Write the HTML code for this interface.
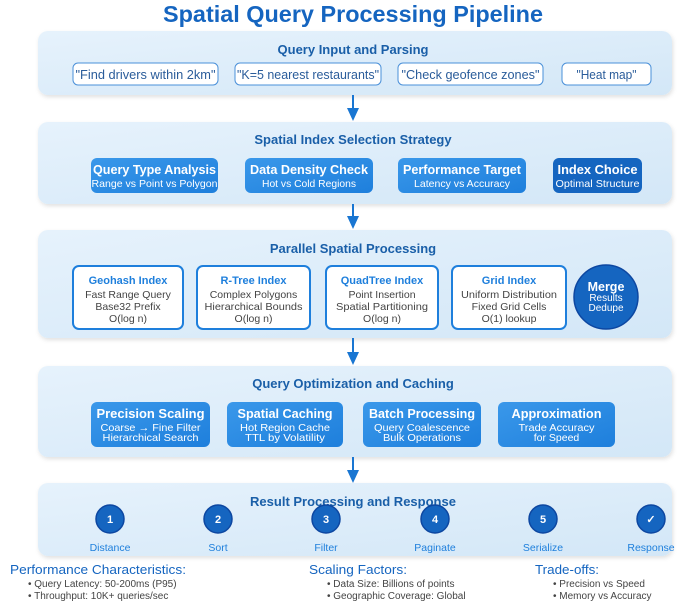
<!DOCTYPE html>
<html><head><meta charset="utf-8"><style>
html,body{margin:0;padding:0;background:#fff;}
svg{display:block;font-family:"Liberation Sans",Arial,sans-serif;}
</style></head><body>
<svg width="685" height="605" viewBox="0 0 685 605" xmlns="http://www.w3.org/2000/svg">
<defs>
<linearGradient id="pg" x1="0" y1="0" x2="1" y2="1"><stop offset="0" stop-color="#e6f2fc"/><stop offset="1" stop-color="#d3e7f7"/></linearGradient>
<linearGradient id="bb" x1="0" y1="0" x2="1" y2="1"><stop offset="0" stop-color="#3a98ea"/><stop offset="1" stop-color="#1e7fdc"/></linearGradient>
<filter id="sh" x="-5%" y="-10%" width="110%" height="130%"><feDropShadow dx="1" dy="2" stdDeviation="2" flood-color="#000" flood-opacity="0.12"/></filter>
</defs>
<text x="353" y="22" text-anchor="middle" font-size="23" font-weight="bold" fill="#1565c0" textLength="380" lengthAdjust="spacingAndGlyphs">Spatial Query Processing Pipeline</text>

<!-- panels -->
<g filter="url(#sh)" fill="url(#pg)">
<rect x="38" y="31" width="634" height="64" rx="10"/>
<rect x="38" y="122" width="634" height="82" rx="10"/>
<rect x="38" y="230" width="634" height="108" rx="10"/>
<rect x="38" y="366" width="634" height="91" rx="10"/>
<rect x="38" y="483" width="634" height="73" rx="10"/>
</g>
<!-- arrows -->
<g stroke="#1976d2" stroke-width="2">
<line x1="353" y1="95" x2="353" y2="110"/>
<line x1="353" y1="204" x2="353" y2="218"/>
<line x1="353" y1="338" x2="353" y2="354"/>
<line x1="353" y1="457" x2="353" y2="472"/>
</g>
<g fill="#1976d2">
<polygon points="347,108 359,108 353,121"/>
<polygon points="347,216 359,216 353,229"/>
<polygon points="347,352 359,352 353,365"/>
<polygon points="347,470 359,470 353,483"/>
</g>

<g font-weight="bold" font-size="13" fill="#1a5fa8" text-anchor="middle">
<text x="353" y="54">Query Input and Parsing</text>
<text x="353" y="144">Spatial Index Selection Strategy</text>
<text x="353" y="253">Parallel Spatial Processing</text>
<text x="353" y="388">Query Optimization and Caching</text>
<text x="353" y="506">Result Processing and Response</text>
</g>

<!-- pills -->
<g fill="#fff" stroke="#4a90d9" stroke-width="1">
<rect x="73" y="63" width="145" height="22" rx="5"/>
<rect x="235" y="63" width="146" height="22" rx="5"/>
<rect x="398" y="63" width="145" height="22" rx="5"/>
<rect x="562" y="63" width="89" height="22" rx="5"/>
</g>
<g font-size="12.5" fill="#2a5c9a" text-anchor="middle">
<text x="145.5" y="79" textLength="140" lengthAdjust="spacingAndGlyphs">"Find drivers within 2km"</text>
<text x="308" y="79" textLength="142" lengthAdjust="spacingAndGlyphs">"K=5 nearest restaurants"</text>
<text x="470.5" y="79" textLength="138" lengthAdjust="spacingAndGlyphs">"Check geofence zones"</text>
<text x="606.5" y="79" textLength="60" lengthAdjust="spacingAndGlyphs">"Heat map"</text>
</g>

<!-- strategy boxes -->
<rect x="91" y="158" width="127" height="35" rx="6" fill="url(#bb)"/>
<rect x="245" y="158" width="128" height="35" rx="6" fill="url(#bb)"/>
<rect x="398" y="158" width="128" height="35" rx="6" fill="url(#bb)"/>
<rect x="553" y="158" width="89" height="35" rx="6" fill="#1565c0"/>
<g fill="#fff" text-anchor="middle">
<g font-size="13" font-weight="bold">
<text x="154.5" y="174" textLength="123" lengthAdjust="spacingAndGlyphs">Query Type Analysis</text>
<text x="309" y="174" textLength="118" lengthAdjust="spacingAndGlyphs">Data Density Check</text>
<text x="462" y="174" textLength="118" lengthAdjust="spacingAndGlyphs">Performance Target</text>
<text x="597.5" y="174" textLength="80" lengthAdjust="spacingAndGlyphs">Index Choice</text>
</g>
<g font-size="10.5">
<text x="154.5" y="187" textLength="126" lengthAdjust="spacingAndGlyphs">Range vs Point vs Polygon</text>
<text x="309" y="187" textLength="94" lengthAdjust="spacingAndGlyphs">Hot vs Cold Regions</text>
<text x="462" y="187" textLength="96" lengthAdjust="spacingAndGlyphs">Latency vs Accuracy</text>
<text x="597.5" y="187" textLength="84" lengthAdjust="spacingAndGlyphs">Optimal Structure</text>
</g>
</g>

<!-- index boxes -->
<g fill="#fff" stroke="#1e7fdc" stroke-width="2">
<rect x="73" y="266" width="110" height="63" rx="6"/>
<rect x="197" y="266" width="113" height="63" rx="6"/>
<rect x="326" y="266" width="112" height="63" rx="6"/>
<rect x="452" y="266" width="114" height="63" rx="6"/>
</g>
<g text-anchor="middle">
<g font-size="11" font-weight="bold" fill="#1e7fdc">
<text x="128" y="284">Geohash Index</text>
<text x="253.5" y="284">R-Tree Index</text>
<text x="382" y="284">QuadTree Index</text>
<text x="509" y="284">Grid Index</text>
</g>
<g font-size="10.5" fill="#444">
<text x="128" y="298">Fast Range Query</text><text x="128" y="310">Base32 Prefix</text><text x="128" y="322">O(log n)</text>
<text x="253.5" y="298">Complex Polygons</text><text x="253.5" y="310" textLength="98" lengthAdjust="spacingAndGlyphs">Hierarchical Bounds</text><text x="253.5" y="322">O(log n)</text>
<text x="382" y="298">Point Insertion</text><text x="382" y="310" textLength="92" lengthAdjust="spacingAndGlyphs">Spatial Partitioning</text><text x="382" y="322">O(log n)</text>
<text x="509" y="298" textLength="96" lengthAdjust="spacingAndGlyphs">Uniform Distribution</text><text x="509" y="310">Fixed Grid Cells</text><text x="509" y="322">O(1) lookup</text>
</g>
</g>
<ellipse cx="606" cy="297" rx="32" ry="32" fill="#1565c0" stroke="#0d47a1" stroke-width="1.5"/>
<g fill="#fff" text-anchor="middle">
<text x="606" y="291" font-size="12.5" font-weight="bold">Merge</text>
<text x="606" y="301" font-size="10">Results</text>
<text x="606" y="311" font-size="10">Dedupe</text>
</g>

<!-- optimization boxes -->
<g fill="url(#bb)">
<rect x="91" y="402" width="119" height="45" rx="6"/>
<rect x="227" y="402" width="116" height="45" rx="6"/>
<rect x="363" y="402" width="118" height="45" rx="6"/>
<rect x="498" y="402" width="117" height="45" rx="6"/>
</g>
<g fill="#fff" text-anchor="middle">
<g font-size="13" font-weight="bold">
<text x="150.5" y="418" textLength="108" lengthAdjust="spacingAndGlyphs">Precision Scaling</text>
<text x="285" y="418" textLength="95" lengthAdjust="spacingAndGlyphs">Spatial Caching</text>
<text x="422" y="418" textLength="106" lengthAdjust="spacingAndGlyphs">Batch Processing</text>
<text x="556.5" y="418" textLength="90" lengthAdjust="spacingAndGlyphs">Approximation</text>
</g>
<g font-size="10.5">
<text x="150.5" y="431" textLength="100" lengthAdjust="spacingAndGlyphs">Coarse → Fine Filter</text>
<text x="150.5" y="441" textLength="96" lengthAdjust="spacingAndGlyphs">Hierarchical Search</text>
<text x="285" y="431" textLength="90" lengthAdjust="spacingAndGlyphs">Hot Region Cache</text>
<text x="285" y="441" textLength="80" lengthAdjust="spacingAndGlyphs">TTL by Volatility</text>
<text x="422" y="431" textLength="96" lengthAdjust="spacingAndGlyphs">Query Coalescence</text>
<text x="422" y="441" textLength="78" lengthAdjust="spacingAndGlyphs">Bulk Operations</text>
<text x="556.5" y="431" textLength="76" lengthAdjust="spacingAndGlyphs">Trade Accuracy</text>
<text x="556.5" y="441">for Speed</text>
</g>
</g>

<!-- steps -->
<g fill="#1565c0" stroke="#0d47a1" stroke-width="1.5">
<circle cx="110" cy="519" r="14"/><circle cx="218" cy="519" r="14"/><circle cx="326" cy="519" r="14"/>
<circle cx="435" cy="519" r="14"/><circle cx="543" cy="519" r="14"/><circle cx="651" cy="519" r="14"/>
</g>
<g fill="#fff" font-size="11" font-weight="bold" text-anchor="middle">
<text x="110" y="523">1</text><text x="218" y="523">2</text><text x="326" y="523">3</text>
<text x="435" y="523">4</text><text x="543" y="523">5</text><text x="651" y="523">✓</text>
</g>
<g fill="#1e7fdc" font-size="10.5" text-anchor="middle">
<text x="110" y="551">Distance</text><text x="218" y="551">Sort</text><text x="326" y="551">Filter</text>
<text x="435" y="551">Paginate</text><text x="543" y="551">Serialize</text><text x="651" y="551">Response</text>
</g>

<!-- footer -->
<g fill="#1565c0" font-size="13">
<text x="10" y="574" textLength="176" lengthAdjust="spacingAndGlyphs">Performance Characteristics:</text>
<text x="309" y="574" textLength="98" lengthAdjust="spacingAndGlyphs">Scaling Factors:</text>
<text x="535" y="574" textLength="64" lengthAdjust="spacingAndGlyphs">Trade-offs:</text>
</g>
<g fill="#444" font-size="10">
<text x="28" y="587">• Query Latency: 50-200ms (P95)</text>
<text x="28" y="599">• Throughput: 10K+ queries/sec</text>
<text x="327" y="587">• Data Size: Billions of points</text>
<text x="327" y="599">• Geographic Coverage: Global</text>
<text x="553" y="587">• Precision vs Speed</text>
<text x="553" y="599">• Memory vs Accuracy</text>
</g>
</svg>
</body></html>
